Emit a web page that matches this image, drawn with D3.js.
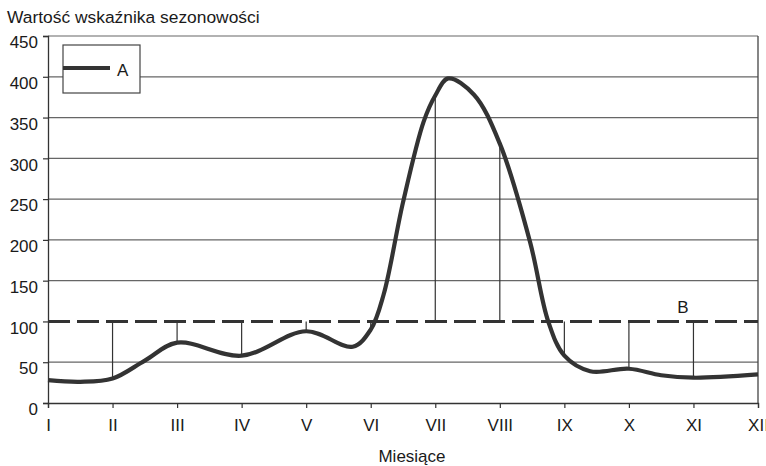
<!DOCTYPE html>
<html>
<head>
<meta charset="utf-8">
<script src="https://cdn.jsdelivr.net/npm/d3@7"></script>
<style>
  body { margin: 0; background: #fff; }
  svg text { font-family: "Liberation Sans", Arial, sans-serif; fill: #1a1a1a; }
</style>
</head>
<body>
<div id="chart"></div>
<script>
// Month labels
const months = ["I", "II", "III", "IV", "V", "VI", "VII", "VIII", "IX", "X", "XI", "XII"];

// Curve A: position in months (1 = I) and value
const curvePos = [1, 1.5, 2, 2.5, 3, 4, 5, 5.72, 6, 6.2, 6.5, 6.82, 7, 7.2, 7.6, 8, 8.47, 8.75, 9, 9.4, 10, 10.5, 11, 12];
const curveVal = [28, 26, 30, 52, 74, 58, 88, 69, 90, 133, 246, 345, 377, 398, 378, 318, 197, 100, 58, 39, 42, 34, 31, 35];

// Line B level
const levelB = 100;
const yTicks = [0, 50, 100, 150, 200, 250, 300, 350, 400, 450];

const W = 766, H = 466;
const plotL = 48, plotR = 758, plotT = 36, plotB = 403;

const svg = d3.select("#chart").append("svg")
  .attr("width", W)
  .attr("height", H);

const x = d3.scaleLinear().domain([1, 12]).range([plotL, plotR]);
const y = d3.scaleLinear().domain([0, 450]).range([plotB, plotT]);

const data = curvePos.map((m, i) => ({ m: m, v: curveVal[i] }));

// Horizontal grid (except the level of B, which is dashed)
svg.append("g")
  .selectAll("line")
  .data(yTicks.filter(t => t !== levelB && t !== 0))
  .enter()
  .append("line")
  .attr("x1", plotL)
  .attr("x2", plotR)
  .attr("y1", d => y(d))
  .attr("y2", d => y(d))
  .attr("stroke", "#666")
  .attr("stroke-width", 1.2);

// Right border
svg.append("line")
  .attr("x1", plotR).attr("x2", plotR)
  .attr("y1", y(450)).attr("y2", y(0))
  .attr("stroke", "#444")
  .attr("stroke-width", 1.3);

// Vertical lines from curve to B at each month
const monthPoints = data.filter(d => Number.isInteger(d.m) && d.m > 1 && d.m < 12);
svg.append("g")
  .selectAll("line")
  .data(monthPoints)
  .enter()
  .append("line")
  .attr("x1", d => x(d.m))
  .attr("x2", d => x(d.m))
  .attr("y1", d => y(d.v))
  .attr("y2", y(levelB))
  .attr("stroke", "#333")
  .attr("stroke-width", 1.2);

// Dashed line B
svg.append("line")
  .attr("x1", plotL)
  .attr("x2", plotR)
  .attr("y1", y(levelB))
  .attr("y2", y(levelB))
  .attr("stroke", "#333")
  .attr("stroke-width", 3)
  .attr("stroke-dasharray", "22,7");

svg.append("text")
  .attr("x", 683)
  .attr("y", 313)
  .attr("text-anchor", "middle")
  .attr("font-size", 17)
  .text("B");

// Y axis
const yAxis = d3.axisLeft(y).tickValues(yTicks).tickSize(5).tickPadding(5);
const gy = svg.append("g")
  .attr("transform", `translate(${plotL},0)`)
  .call(yAxis);
gy.select(".domain").attr("stroke", "#333").attr("stroke-width", 1.3);
gy.selectAll(".tick line").attr("stroke", "#333").attr("stroke-width", 1.2);
gy.selectAll(".tick text")
  .attr("font-size", 17)
  .attr("dy", "0.75em")
  .attr("y", -1)
  .attr("fill", "#1a1a1a");

// X axis
const xAxis = d3.axisBottom(x)
  .tickValues(d3.range(1, 13))
  .tickFormat(d => months[d - 1])
  .tickSize(5)
  .tickPadding(11);
const gx = svg.append("g")
  .attr("transform", `translate(0,${plotB})`)
  .call(xAxis);
gx.select(".domain").attr("stroke", "#333").attr("stroke-width", 1.3);
gx.selectAll(".tick line").attr("stroke", "#333").attr("stroke-width", 1.2);
gx.selectAll(".tick text").attr("font-size", 17).attr("fill", "#1a1a1a");

// Curve A
const line = d3.line()
  .x(d => x(d.m))
  .y(d => y(d.v))
  .curve(d3.curveCatmullRom.alpha(0.5));

svg.append("path")
  .datum(data)
  .attr("d", line)
  .attr("fill", "none")
  .attr("stroke", "#333")
  .attr("stroke-width", 4.2)
  .attr("stroke-linejoin", "round");

// Legend
const leg = svg.append("g");
leg.append("rect")
  .attr("x", 63).attr("y", 45)
  .attr("width", 77).attr("height", 48)
  .attr("fill", "#fff")
  .attr("stroke", "#444")
  .attr("stroke-width", 1.2);
leg.append("line")
  .attr("x1", 63).attr("x2", 110)
  .attr("y1", 68).attr("y2", 68)
  .attr("stroke", "#333")
  .attr("stroke-width", 4.2);
leg.append("text")
  .attr("x", 117).attr("y", 76)
  .attr("font-size", 17)
  .text("A");

// Titles
svg.append("text")
  .attr("x", 7).attr("y", 23)
  .attr("font-size", 17.4)
  .text("Wartość wskaźnika sezonowości");

svg.append("text")
  .attr("x", 412).attr("y", 462)
  .attr("text-anchor", "middle")
  .attr("font-size", 17)
  .text("Miesiące");
</script>
</body>
</html>
